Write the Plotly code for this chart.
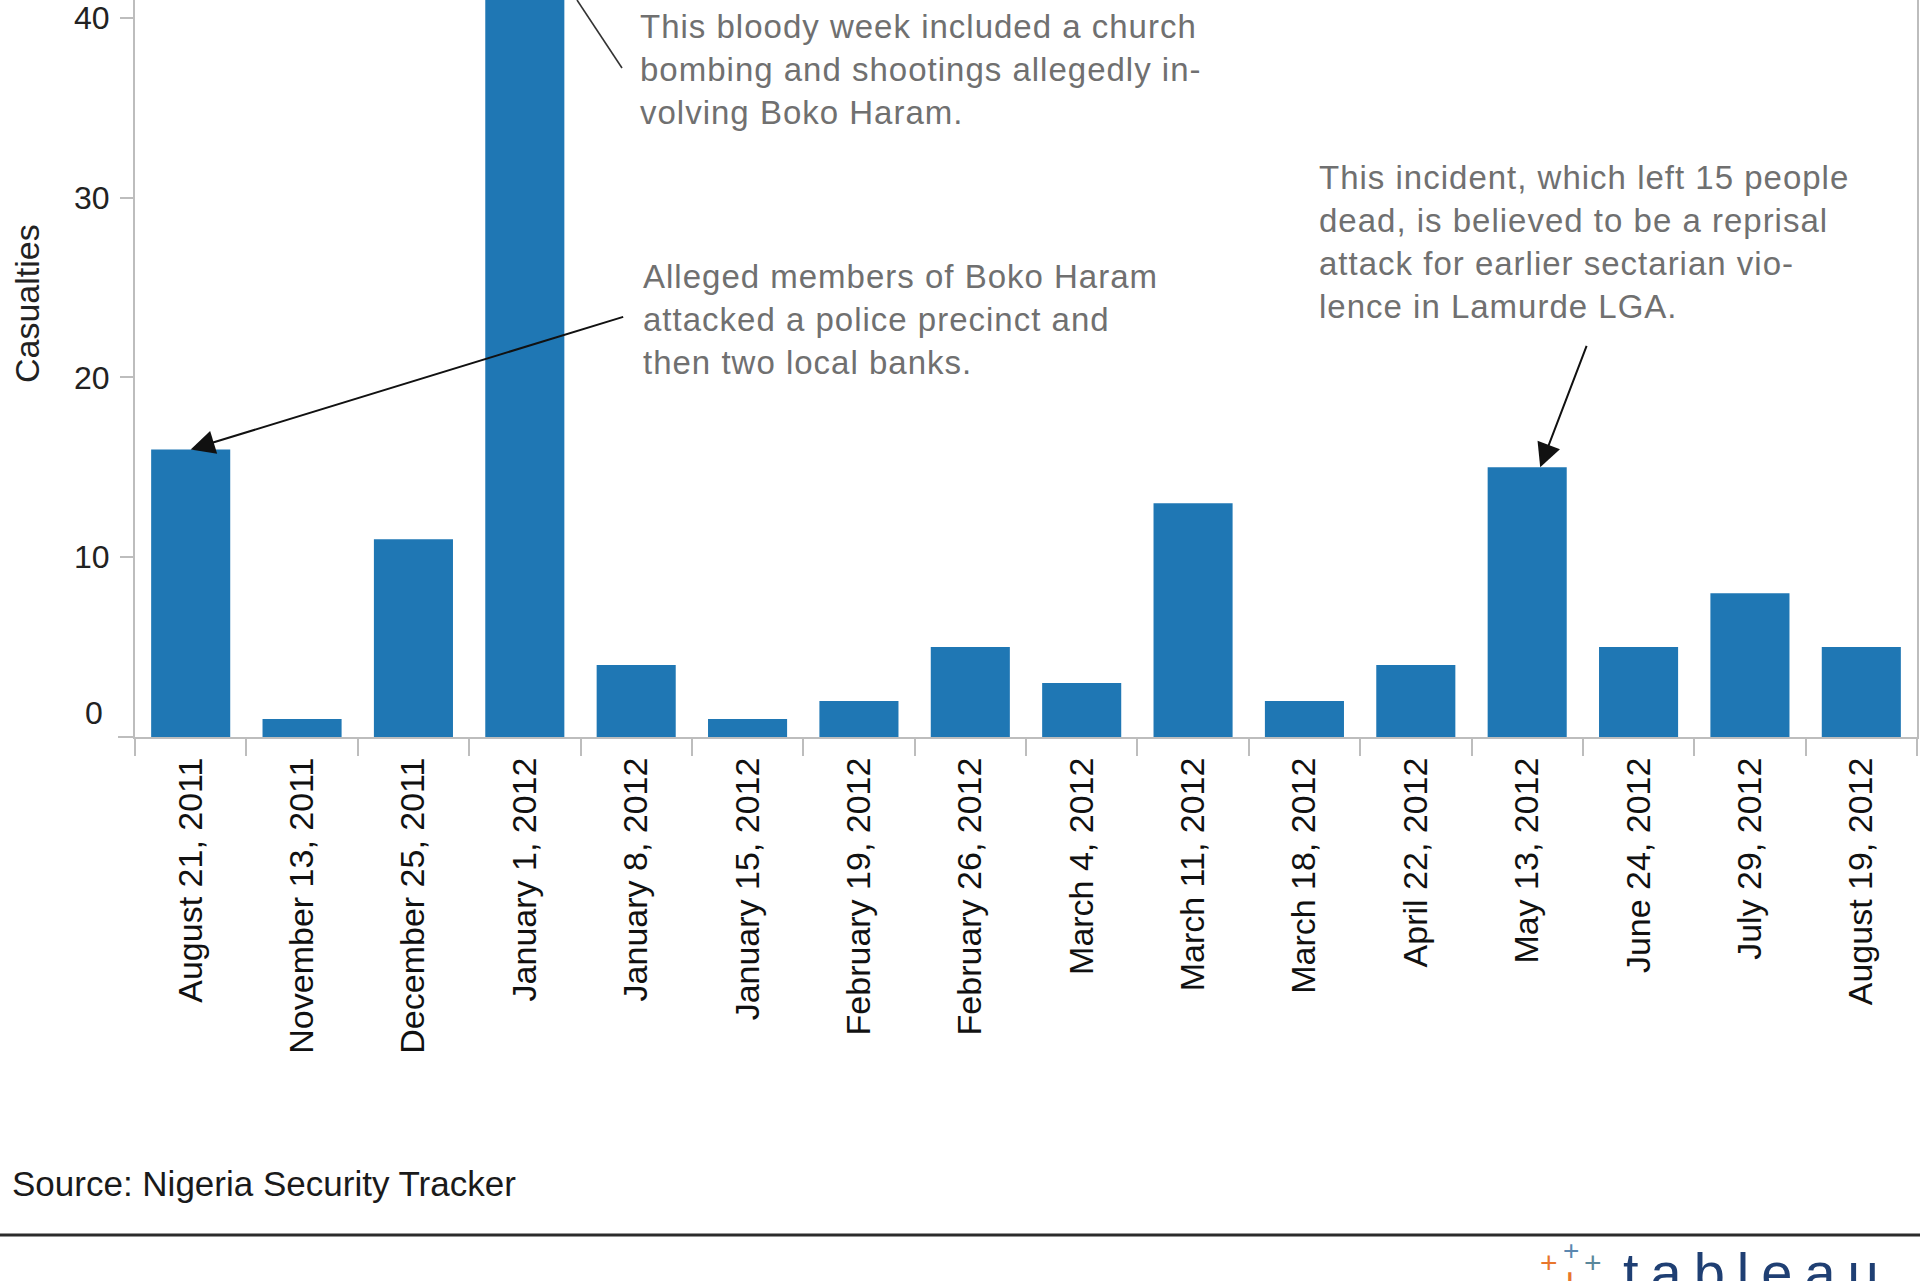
import plotly.graph_objects as go

# ---------------- data ----------------
dates = ["August 21, 2011", "November 13, 2011", "December 25, 2011", "January 1, 2012",
         "January 8, 2012", "January 15, 2012", "February 19, 2012", "February 26, 2012",
         "March 4, 2012", "March 11, 2012", "March 18, 2012", "April 22, 2012",
         "May 13, 2012", "June 24, 2012", "July 29, 2012", "August 19, 2012"]
casualties = [16, 1, 11, 48, 4, 1, 2, 5, 3, 13, 2, 4, 15, 5, 8, 5]
y_tick_values = [10, 20, 30, 40]
y_tick_labels = ["10", "20", "30", "40"]

note_church = ("This bloody week included a church<br>bombing and shootings allegedly in-<br>"
               "volving Boko Haram.")
note_police = ("Alleged members of Boko Haram<br>attacked a police precinct and<br>"
               "then two local banks.")
note_reprisal = ("This incident, which left 15 people<br>dead, is believed to be a reprisal<br>"
                 "attack for earlier sectarian vio-<br>lence in Lamurde LGA.")
source_text = "Source: Nigeria Security Tracker"

# ---------------- layout geometry ----------------
W, H = 1920, 1281
L, R, T, B = 135, 3, 0, 544
PW = W - L - R
PH = H - T - B
BASE = H - B  # pixel row of the value 0


def px(x):
    return (x - L) / PW


def py(y):
    return (BASE - y) / PH


def spaced(text, ls):
    return '<span style="letter-spacing:%spx">%s</span>' % (ls, text)


FONT = "Liberation Sans, Arial, sans-serif"
BAR = "#1F77B4"
AXIS = "#BDBDBD"
NOTE = "#707070"

fig = go.Figure(go.Bar(x=dates, y=casualties, marker=dict(color=BAR, line=dict(width=0)),
                       hoverinfo="x+y"))

note_style = dict(xref="paper", yref="paper", xanchor="left", yanchor="top", align="left",
                  showarrow=False, borderpad=0, font=dict(size=33, color=NOTE, family=FONT))

annotations = [
    # y label "0" sits a little above the baseline
    dict(text="0", xref="paper", yref="paper", x=px(105), y=py(713), xanchor="right",
         yanchor="middle", showarrow=False, font=dict(size=32, color="#222", family=FONT)),
    dict(text="Casualties", xref="paper", yref="paper", x=px(27), y=py(304), textangle=-90,
         xanchor="center", yanchor="middle", showarrow=False,
         font=dict(size=34, color="#222", family=FONT)),
    dict(text=spaced(note_church, 1), x=px(639), y=py(7), **note_style),
    dict(text=spaced(note_police, 1), x=px(642), y=py(257), **note_style),
    dict(text=spaced(note_reprisal, 1), x=px(1318), y=py(158), **note_style),
    # arrows pointing at bars
    dict(text="", x=dates[0], y=casualties[0], xref="x", yref="y", showarrow=True,
         ax=434, ay=-133, arrowhead=2, arrowsize=2.4, arrowwidth=2, arrowcolor="#111",
         standoff=0),
    dict(text="", x=dates[12], y=casualties[12], xref="x", yref="y", showarrow=True,
         xshift=13, ax=47, ay=-123, arrowhead=2, arrowsize=2.4, arrowwidth=2,
         arrowcolor="#111", standoff=0),
    dict(text=source_text, xref="paper", yref="paper", x=px(10), y=py(1183), xanchor="left",
         yanchor="middle", showarrow=False, font=dict(size=35, color="#1a1a1a", family=FONT)),
    # tableau logo (partly cut by the page bottom, as in the original)
    dict(text=spaced("tableau", 12), xref="paper", yref="paper",
         x=px(1622), y=py(1240), xanchor="left", yanchor="top", showarrow=False, borderpad=0,
         font=dict(size=56, color="#1F3F73", family=FONT)),
]
plus_marks = [(1549, 1262, 30, "#E8762C"), (1571, 1250, 28, "#5B87B0"),
              (1593, 1262, 30, "#59879B"), (1570, 1282, 44, "#E8762C")]
for mx, my, ms, mc in plus_marks:
    annotations.append(dict(text="+", xref="paper", yref="paper", x=px(mx), y=py(my),
                            xanchor="center", yanchor="middle", showarrow=False, borderpad=0,
                            font=dict(size=ms, color=mc, family=FONT)))

shapes = [
    # leader line for the off-scale bar
    dict(type="line", xref="paper", yref="paper", x0=px(622), y0=py(68), x1=px(577), y1=py(0),
         line=dict(color="#333", width=1.6)),
    # baseline extension to the left of the value axis
    dict(type="line", xref="paper", yref="paper", x0=px(118), y0=0, x1=0, y1=0,
         line=dict(color=AXIS, width=2)),
    # footer rule
    dict(type="line", xref="paper", yref="paper", x0=px(0), y0=py(1235), x1=px(W), y1=py(1235),
         line=dict(color="#2b2b2b", width=3)),
]

fig.update_layout(
    width=W, height=H,
    margin=dict(l=L, r=R, t=T, b=B, pad=0),
    paper_bgcolor="white", plot_bgcolor="white",
    font=dict(family=FONT, size=32, color="#222"),
    bargap=0.29,
    showlegend=False,
    annotations=annotations,
    shapes=shapes,
    xaxis=dict(type="category", tickangle=-90, tickson="boundaries", ticks="outside",
               ticklen=17, tickwidth=2, tickcolor=AXIS, showline=True, linecolor=AXIS,
               linewidth=2, showgrid=False, zeroline=False, ticklabelstandoff=5,
               tickfont=dict(size=34, color="#111", family=FONT)),
    yaxis=dict(range=[0, 41.0], tickvals=y_tick_values, ticktext=y_tick_labels,
               ticks="outside", ticklen=13, tickwidth=2, tickcolor=AXIS, showline=True,
               linecolor=AXIS, linewidth=2, mirror=True, showgrid=False, zeroline=False,
               ticklabelstandoff=4,
               tickfont=dict(size=32, color="#222", family=FONT)),
)

fig.write_html("out.html")
